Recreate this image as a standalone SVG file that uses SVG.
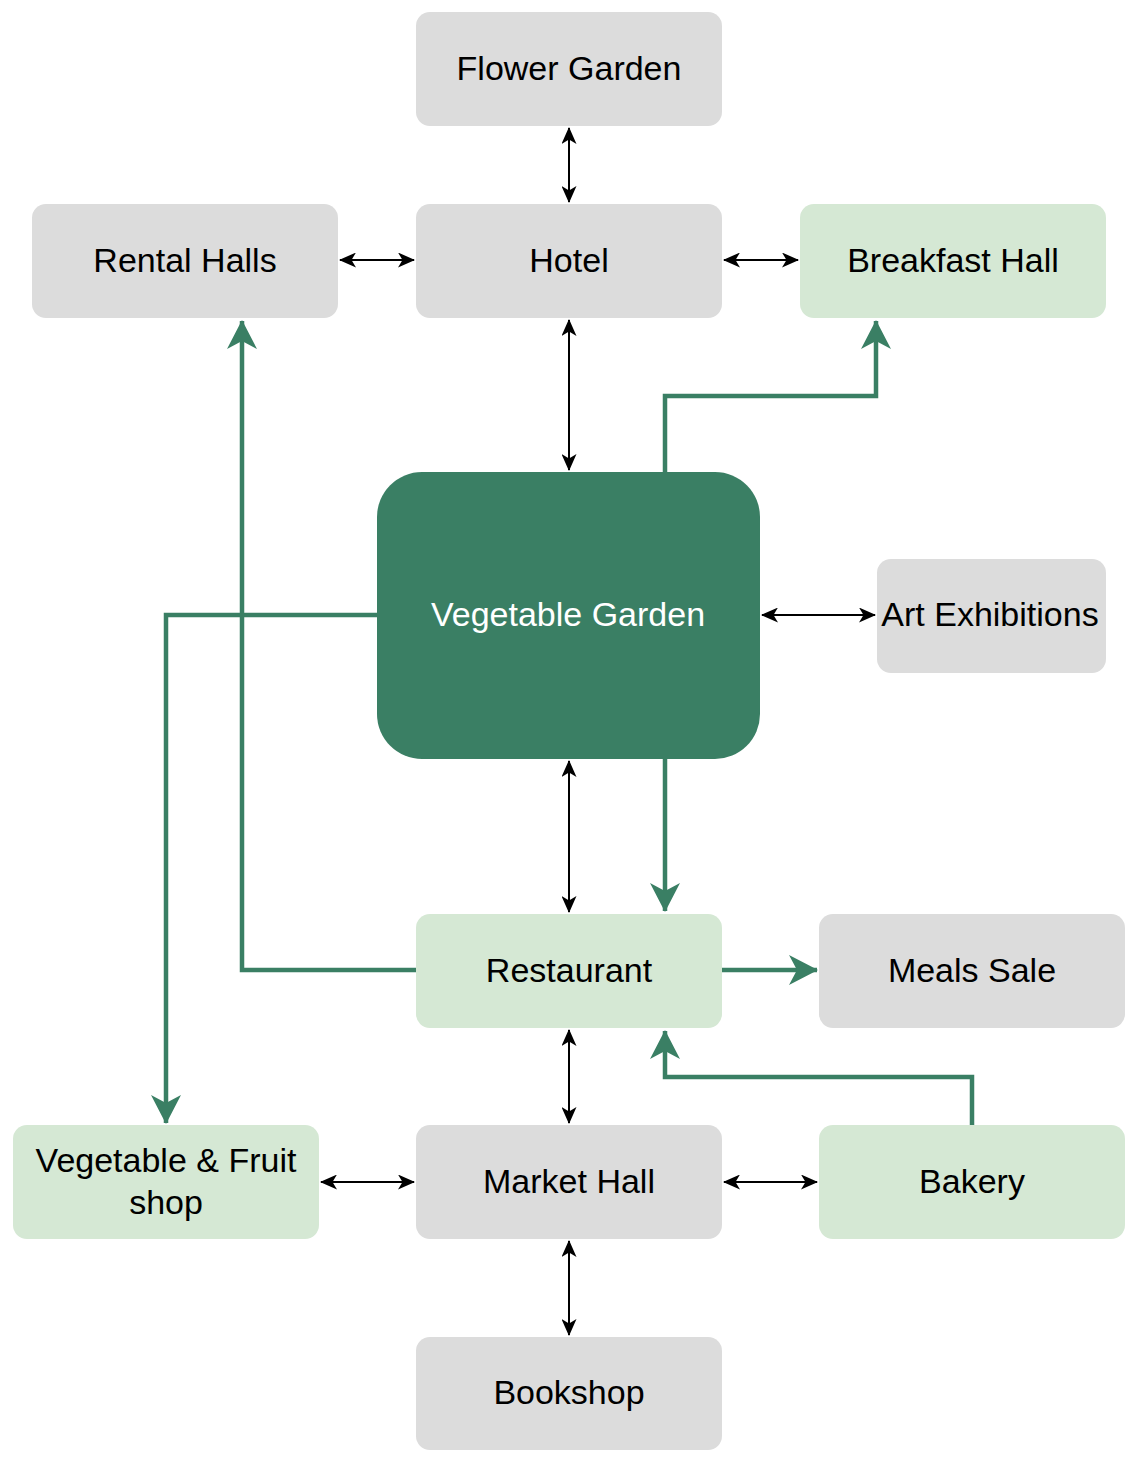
<svg xmlns="http://www.w3.org/2000/svg" width="1129" height="1460" viewBox="0 0 1129 1460">
<style>
.g{fill:#dcdcdc}
.l{fill:#d5e8d4}
.t{font-family:"Liberation Sans",Arial,sans-serif;font-size:34px;fill:#000;text-anchor:middle}
.w{fill:#ffffff}
.b{fill:none;stroke:#000;stroke-width:2}
.gr{fill:none;stroke:#3a7f64;stroke-width:4.5}
</style>
<defs>
<marker id="ab" markerUnits="userSpaceOnUse" markerWidth="17" markerHeight="15" viewBox="0 0 17 15" refX="16" refY="7.5" orient="auto-start-reverse"><path d="M0,0 L17,7.5 L0,15 L4.5,7.5 Z" fill="#000"/></marker>
<marker id="ag" markerUnits="userSpaceOnUse" markerWidth="29" markerHeight="30" viewBox="0 0 29 30" refX="28" refY="15" orient="auto"><path d="M0,0 L29,15 L0,30 L8,15 Z" fill="#3a7f64"/></marker>
</defs>
<rect width="1129" height="1460" fill="#fff"/>
<g id="flower-garden"><rect class="g" x="416" y="12" width="306" height="114" rx="14"/><text class="t" x="569" y="80">Flower Garden</text></g>
<g id="rental-halls"><rect class="g" x="32" y="204" width="306" height="114" rx="14"/><text class="t" x="185" y="272">Rental Halls</text></g>
<g id="hotel"><rect class="g" x="416" y="204" width="306" height="114" rx="14"/><text class="t" x="569" y="272">Hotel</text></g>
<g id="breakfast-hall"><rect class="l" x="800" y="204" width="306" height="114" rx="14"/><text class="t" x="953" y="272">Breakfast Hall</text></g>
<g id="vegetable-garden"><rect x="377" y="472" width="383" height="287" rx="45" fill="#3a7f64"/><text class="t w" x="568" y="626">Vegetable Garden</text></g>
<g id="art-exhibitions"><rect class="g" x="877" y="559" width="229" height="114" rx="14"/><text class="t" x="990" y="626">Art Exhibitions</text></g>
<g id="restaurant"><rect class="l" x="416" y="914" width="306" height="114" rx="14"/><text class="t" x="569" y="982">Restaurant</text></g>
<g id="meals-sale"><rect class="g" x="819" y="914" width="306" height="114" rx="14"/><text class="t" x="972" y="982">Meals Sale</text></g>
<g id="veg-fruit-shop"><rect class="l" x="13" y="1125" width="306" height="114" rx="14"/><text class="t" x="166" y="1172">Vegetable &amp; Fruit</text><text class="t" x="166" y="1214">shop</text></g>
<g id="market-hall"><rect class="g" x="416" y="1125" width="306" height="114" rx="14"/><text class="t" x="569" y="1193">Market Hall</text></g>
<g id="bakery"><rect class="l" x="819" y="1125" width="306" height="114" rx="14"/><text class="t" x="972" y="1193">Bakery</text></g>
<g id="bookshop"><rect class="g" x="416" y="1337" width="306" height="113" rx="14"/><text class="t" x="569" y="1404">Bookshop</text></g>
<g id="connectors">
<path class="b" d="M569,128 V202" marker-start="url(#ab)" marker-end="url(#ab)"/>
<path class="b" d="M340,260 H414" marker-start="url(#ab)" marker-end="url(#ab)"/>
<path class="b" d="M724,260 H798" marker-start="url(#ab)" marker-end="url(#ab)"/>
<path class="b" d="M569,320 V470" marker-start="url(#ab)" marker-end="url(#ab)"/>
<path class="b" d="M762,615 H875" marker-start="url(#ab)" marker-end="url(#ab)"/>
<path class="b" d="M569,761 V912" marker-start="url(#ab)" marker-end="url(#ab)"/>
<path class="b" d="M569,1030 V1123" marker-start="url(#ab)" marker-end="url(#ab)"/>
<path class="b" d="M321,1182 H414" marker-start="url(#ab)" marker-end="url(#ab)"/>
<path class="b" d="M724,1182 H817" marker-start="url(#ab)" marker-end="url(#ab)"/>
<path class="b" d="M569,1241 V1335" marker-start="url(#ab)" marker-end="url(#ab)"/>
<path class="gr" d="M665,472 V396 H876 V321" marker-end="url(#ag)"/>
<path class="gr" d="M377,615 H166 V1123" marker-end="url(#ag)"/>
<path class="gr" d="M416,970 H242 V321" marker-end="url(#ag)"/>
<path class="gr" d="M665,759 V911" marker-end="url(#ag)"/>
<path class="gr" d="M722,970 H817" marker-end="url(#ag)"/>
<path class="gr" d="M972,1125 V1077 H665 V1031" marker-end="url(#ag)"/>
</g>
</svg>
